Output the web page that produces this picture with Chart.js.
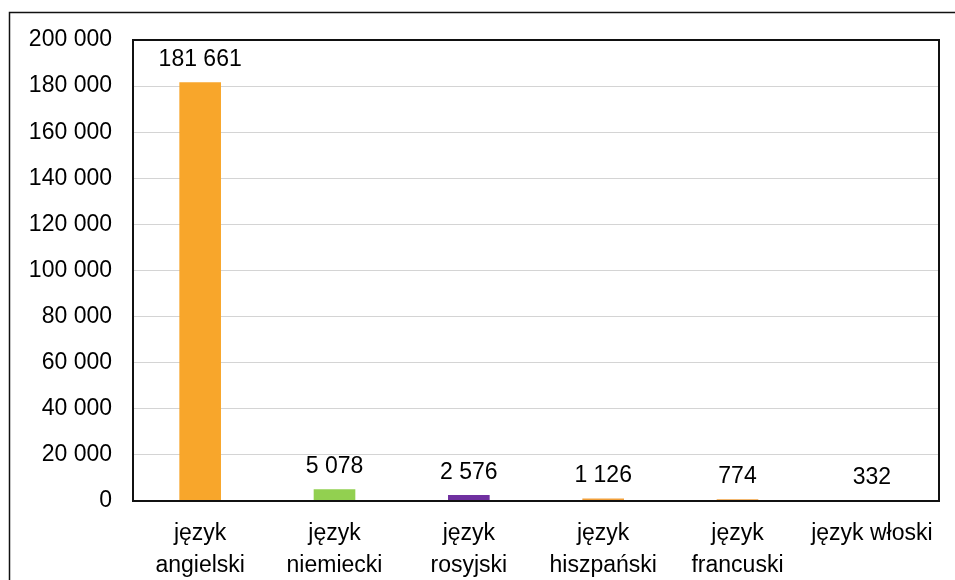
<!DOCTYPE html>
<html>
<head>
<meta charset="utf-8">
<script src="https://cdn.jsdelivr.net/npm/chart.js@4.4.0/dist/chart.umd.min.js"></script>
<style>
  html, body { margin: 0; padding: 0; background: #fff; }
  #wrap { position: relative; width: 955px; height: 580px; }
</style>
</head>
<body>
<div id="wrap"><canvas id="chart" width="955" height="580"></canvas></div>
<script>
'use strict';

// dane
const categories = [['język', 'angielski'], ['język', 'niemiecki'], ['język', 'rosyjski'], ['język', 'hiszpański'], ['język', 'francuski'], 'język włoski'];
const values = [181661, 5078, 2576, 1126, 774, 332];
const barColors = ['#F8A62B', '#92D050', '#7030A0', '#F2A03A', '#EFA040', '#C8873A'];
const yMax = 200000;
const yStep = 20000;

const fmt = v => String(v).replace(/\B(?=(\d{3})+(?!\d))/g, ' ');
const FONT = '"Liberation Sans", Arial, sans-serif';

// ramki i etykiety wartości
const framePlugin = {
  id: 'frames',
  afterDraw(chart) {
    const { ctx, chartArea: a } = chart;
    ctx.save();
    ctx.strokeStyle = '#111';
    ctx.lineWidth = 1.5;
    ctx.beginPath();
    ctx.moveTo(9.5, 1000); ctx.lineTo(9.5, 12.5); ctx.lineTo(1000, 12.5);
    ctx.stroke();
    ctx.lineWidth = 2;
    ctx.strokeRect(a.left, a.top, a.right - a.left, a.bottom - a.top);
    ctx.restore();
  },
  afterDatasetsDraw(chart) {
    const { ctx } = chart;
    const meta = chart.getDatasetMeta(0);
    ctx.save();
    ctx.font = '23px ' + FONT;
    ctx.fillStyle = '#000';
    ctx.textAlign = 'center';
    ctx.textBaseline = 'alphabetic';
    meta.data.forEach((bar, i) => {
      ctx.fillText(fmt(values[i]), bar.x, bar.y - 16);
    });
    ctx.restore();
  }
};

new Chart(document.getElementById('chart'), {
  type: 'bar',
  data: {
    labels: categories,
    datasets: [{ data: values, backgroundColor: barColors, borderWidth: 0, barPercentage: 0.62, categoryPercentage: 0.5 }]
  },
  options: {
    responsive: false,
    animation: false,
    events: [],
    layout: { padding: { top: 40, right: 16, left: 0, bottom: 0 } },
    plugins: { legend: { display: false }, tooltip: { enabled: false } },
    scales: {
      x: {
        grid: { display: false, drawTicks: false },
        border: { display: false },
        ticks: { color: '#000', font: { family: FONT, size: 23, lineHeight: 1.42 }, padding: 16, maxRotation: 0, autoSkip: false },
        afterFit: s => { s.height = 79; }
      },
      y: {
        min: 0, max: yMax,
        grid: { color: '#D4D4D4', lineWidth: 1, drawTicks: false },
        border: { display: false },
        ticks: { stepSize: yStep, color: '#000', font: { family: FONT, size: 23 }, padding: 21, callback: v => fmt(v) },
        afterFit: s => { s.width = 133; }
      }
    }
  },
  plugins: [framePlugin]
});
</script>
</body>
</html>
